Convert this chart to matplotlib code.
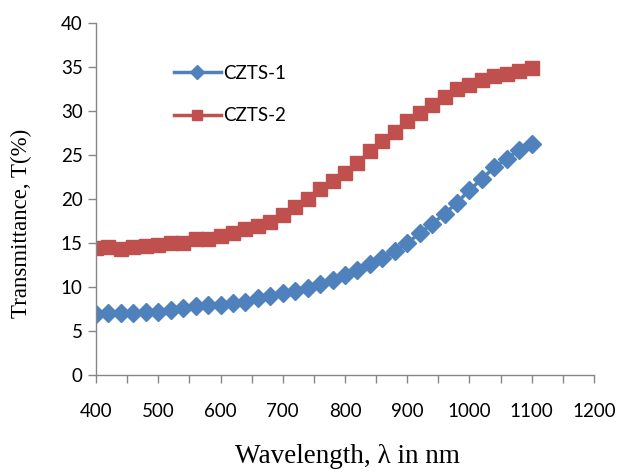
import matplotlib
matplotlib.use("Agg")
import matplotlib.pyplot as plt
from matplotlib.ticker import MultipleLocator

wavelength = list(range(400, 1101, 20))
czts1 = [6.9, 7.1, 7.0, 7.0, 7.2, 7.2, 7.4, 7.6, 7.8, 7.9, 7.9, 8.2, 8.3, 8.7, 9.0, 9.3,
         9.6, 9.9, 10.3, 10.8, 11.4, 11.9, 12.6, 13.3, 14.1, 15.0, 16.1, 17.2, 18.3, 19.6,
         21.0, 22.3, 23.6, 24.6, 25.6, 26.2]
czts2 = [14.4, 14.5, 14.3, 14.5, 14.65, 14.8, 15.0, 15.0, 15.4, 15.4, 15.8, 16.1, 16.6, 16.9,
         17.4, 18.2, 19.1, 20.0, 21.1, 22.0, 23.0, 24.1, 25.4, 26.6, 27.6, 28.9, 29.8, 30.7,
         31.6, 32.5, 33.0, 33.5, 34.0, 34.2, 34.5, 34.85]
series_names = ["CZTS-1", "CZTS-2"]

fig = plt.figure(figsize=(6.17, 4.72), dpi=100)
ax = fig.add_axes([0.1556, 0.2055, 0.8071, 0.7458])

ax.plot(wavelength, czts1, color="#4F81BD", lw=2.5, marker="D", ms=9,
        label=series_names[0])
ax.plot(wavelength, czts2, color="#C0504D", lw=2.5, marker="s", ms=10.5,
        label=series_names[1])

ax.set_xlim(400, 1200)
ax.set_ylim(0, 40)
ax.xaxis.set_major_locator(MultipleLocator(100))
ax.xaxis.set_minor_locator(MultipleLocator(50))
ax.yaxis.set_major_locator(MultipleLocator(5))

for s in ["top", "right"]:
    ax.spines[s].set_visible(False)
for s in ["left", "bottom"]:
    ax.spines[s].set_color("#868686")
    ax.spines[s].set_linewidth(1.0)

tickfont = "Lato"
ax.tick_params(axis="both", which="both", color="#868686", length=6, width=1,
               direction="out", labelsize=13.5)
ax.tick_params(axis="x", pad=14)
for lab in ax.get_xticklabels() + ax.get_yticklabels():
    lab.set_fontfamily(tickfont)

ax.set_xlabel("Wavelength, λ in nm", family="Liberation Serif", fontsize=19.5)
ax.set_ylabel("Transmittance, T(%)", family="Liberation Serif", fontsize=16.5)
ax.xaxis.set_label_coords(0.505, -0.195)
ax.yaxis.set_label_coords(-0.128, 0.432)

leg = ax.legend(loc="upper left", bbox_to_anchor=(0.122, 0.929), frameon=False,
                handlelength=2.5, handletextpad=0.15, labelspacing=1.35,
                markerscale=0.75, prop={"family": tickfont, "size": 13.5})

fig.savefig("out.png", dpi=100)
